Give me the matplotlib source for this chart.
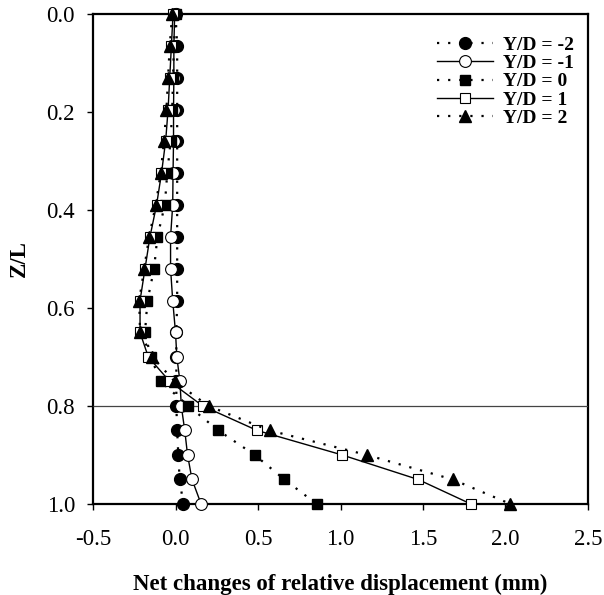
import matplotlib
matplotlib.use('Agg')
import matplotlib.pyplot as plt

plt.rcParams['font.family'] = ['Liberation Serif', 'DejaVu Serif']

# depth ratio Z/L and net change of relative displacement (mm) per Y/D line
z = [0, 0.065, 0.13, 0.195, 0.26, 0.325, 0.39, 0.455, 0.52, 0.585,
     0.65, 0.70, 0.75, 0.80, 0.85, 0.90, 0.95, 1.0]
yd_m2 = [0.0, 0.01, 0.01, 0.01, 0.01, 0.01, 0.01, 0.01, 0.01, 0.01,
         0.005, 0.005, 0.005, 0.005, 0.01, 0.017, 0.025, 0.047]
yd_m1 = [-0.005, -0.01, -0.01, -0.012, -0.012, -0.015, -0.017, -0.03, -0.03, -0.017,
         0.0, 0.008, 0.027, 0.035, 0.056, 0.073, 0.10, 0.155]
yd_0 = [0.0, -0.01, -0.015, -0.02, -0.03, -0.05, -0.065, -0.11, -0.13, -0.17,
        -0.185, -0.15, -0.09, 0.078, 0.26, 0.48, 0.66, 0.855]
yd_1 = [-0.015, -0.025, -0.035, -0.045, -0.06, -0.085, -0.115, -0.155, -0.185, -0.215,
        -0.215, -0.165, -0.035, 0.165, 0.495, 1.01, 1.47, 1.79]
yd_2 = [-0.02, -0.035, -0.045, -0.055, -0.07, -0.09, -0.12, -0.16, -0.19, -0.22,
        -0.215, -0.14, -0.005, 0.2, 0.57, 1.16, 1.68, 2.03]

labels = ['Y/D = -2', 'Y/D = -1', 'Y/D = 0', 'Y/D = 1', 'Y/D = 2']
x_ticks = [-0.5, 0.0, 0.5, 1.0, 1.5, 2.0, 2.5]
z_ticks = [0.0, 0.2, 0.4, 0.6, 0.8, 1.0]

dotted = (0, (1, 4))

fig = plt.figure(figsize=(6.04, 5.95), dpi=100)
ax = fig.add_axes([0.154, 0.153, 0.8195, 0.8235])

ax.axhline(0.8, color='#444444', lw=0.9, zorder=1)

common = dict(color='black', clip_on=False)
ax.plot(yd_m2, z, ls=dotted, lw=1.6, marker='o', ms=8.5,
        mfc='black', mec='black', label=labels[0], **common)
ax.plot(yd_m1, z, ls='-', lw=1.0, marker='o', ms=8.5,
        mfc='white', mec='black', mew=0.8, label=labels[1], **common)
ax.plot(yd_0, z, ls=dotted, lw=1.6, marker='s', ms=7.5,
        mfc='black', mec='black', label=labels[2], **common)
ax.plot(yd_1, z, ls='-', lw=1.0, marker='s', ms=7.5,
        mfc='white', mec='black', mew=0.8, label=labels[3], **common)
ax.plot(yd_2, z, ls=dotted, lw=1.6, marker='^', ms=8.5,
        mfc='black', mec='black', label=labels[4], **common)

ax.set_xlim(-0.5, 2.5)
ax.set_ylim(1.0, 0.0)
ax.set_xticks(x_ticks)
ax.set_yticks(z_ticks)
ax.set_xticklabels(['%.1f' % v for v in x_ticks])
ax.set_yticklabels(['%.1f' % v for v in z_ticks])
ax.tick_params(direction='out', length=4, width=1, labelsize=16.5)
ax.tick_params(axis='x', pad=14)
ax.tick_params(axis='y', pad=9)

for s in ax.spines.values():
    s.set_linewidth(1.6)
    s.set_zorder(0.5)

ax.set_xlabel('Net changes of relative displacement (mm)', fontsize=16.5,
              fontweight='bold', labelpad=17)
ax.set_ylabel('Z/L', fontsize=16.5, fontweight='bold', labelpad=12)

leg = ax.legend(loc='upper right', bbox_to_anchor=(0.995, 0.978), frameon=False,
                prop={'weight': 'bold', 'size': 14}, handlelength=2.9,
                handletextpad=0.5, labelspacing=0.03, borderaxespad=0.2)

fig.savefig('out.png', dpi=100)
